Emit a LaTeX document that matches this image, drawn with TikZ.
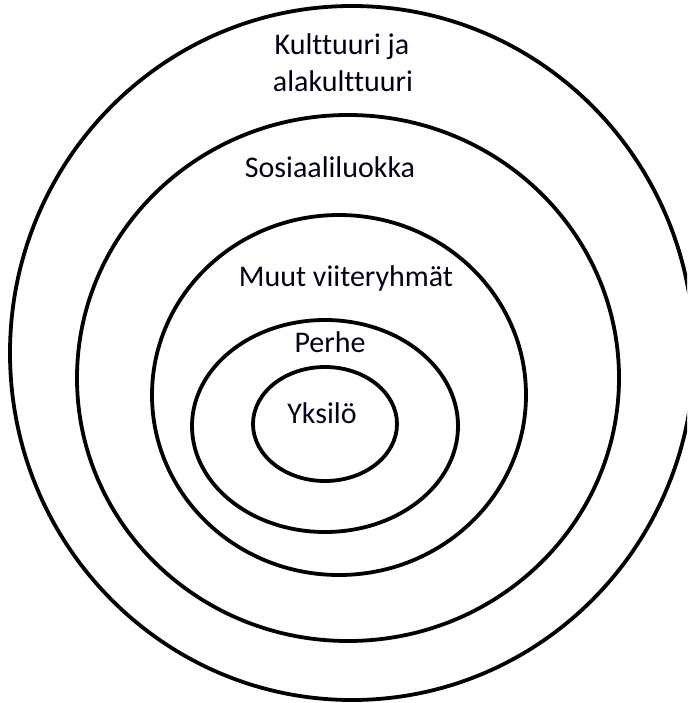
\documentclass[tikz,border=0pt]{standalone}
\usepackage{fontspec}
\setmainfont{Carlito}[Ligatures={NoCommon}]
\begin{document}
\begin{tikzpicture}[x=1pt,y=-1pt,
  ring/.style={draw=black,line width=3.8pt},
  lbl/.style={anchor=base,inner sep=0pt,font=\fontsize{30}{37}\selectfont,text=black!90!blue}]
\useasboundingbox (0,0) rectangle (687,703);
\fill[white] (0,0) rectangle (687,703);
\begin{scope}
\clip (0,0) rectangle (687,703);
\draw[ring] (352,353) ellipse [x radius=342pt, y radius=347pt];
\draw[ring] (348,378) ellipse [x radius=271pt, y radius=263pt];
\draw[ring] (339,395) ellipse [x radius=187pt, y radius=180pt];
\draw[ring] (325,426) ellipse [x radius=133pt, y radius=106pt];
\draw[ring] (325,424) ellipse [x radius=72pt, y radius=57pt];
\end{scope}
\node[lbl] (k1) at (342,55) {Kulttuuri ja};
\node[lbl] (k2) at (343,92) {alakulttuuri};
\node[lbl] (sos) at (330,178) {Sosiaaliluokka};
\node[lbl] (muut) at (346,286) {Muut viiteryhmät};
\node[lbl] (perhe) at (330,352) {Perhe};
\node[lbl] (yks) at (322,423) {Yksilö};
\end{tikzpicture}
\end{document}
